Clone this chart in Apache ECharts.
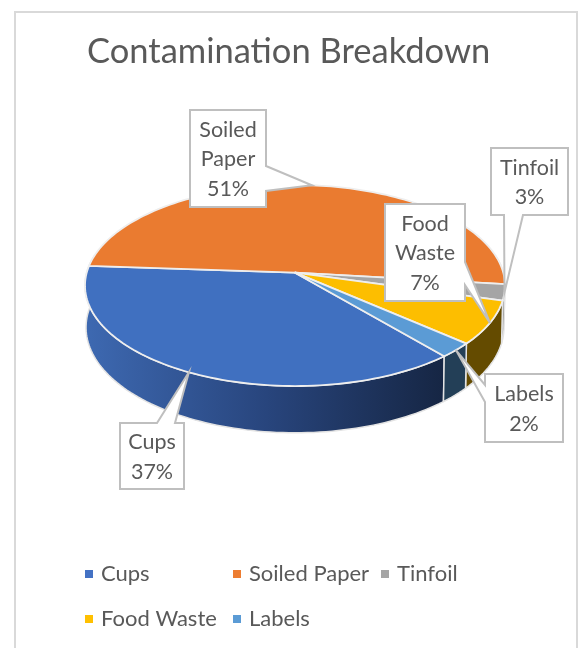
<!DOCTYPE html>
<html>
<head>
<meta charset="utf-8">
<style>
  html, body { margin: 0; padding: 0; background: #fff; }
  #chart { width: 580px; height: 648px; }
</style>
</head>
<body>
<div id="chart"></div>
<script src="https://cdn.jsdelivr.net/npm/echarts@6/dist/echarts.min.js"></script>
<script>
const categories = ["Cups", "Soiled Paper", "Tinfoil", "Food Waste", "Labels"];
const percents = [37.3, 50.7, 2.6, 7, 2.4];

const topColors = ["#4070c0", "#ea7b30", "#a5a5a5", "#fdbe00", "#5b9bd5"];
const legendColors = ["#4472c4", "#ed7d31", "#a5a5a5", "#ffc000", "#5b9bd5"];
const textColor = "#595959";
const fontName = "Lato, 'Open Sans', sans-serif";

// pie geometry, perspective squeeze of a flat disc
const pie = { cx: 295, cy: 272.7, a: 208.3, b: 98.9, k: 0.1274, depth: 41.3, bottomScale: 0.995, startAngle: 139.7 };

// callout boxes, and where on the box the tail starts
const callouts = [
  { x: 120, y: 423, w: 64, h: 66, tail: "top", from: 157, to: 175 },
  { x: 190, y: 110, w: 76, h: 97, tail: "right", from: 166, to: 191 },
  { x: 491, y: 148, w: 77, h: 67, tail: "bottom", from: 504, to: 523 },
  { x: 385, y: 204, w: 80, h: 97, tail: "right", from: 262, to: 285 },
  { x: 485, y: 374, w: 78, h: 68, tail: "left", from: 385, to: 402 },
];

function wallFill(i) {
  const LG = echarts.graphic.LinearGradient;
  if (i === 0) {
    return new LG(90, 0, 443, 0, [
      { offset: 0, color: "#3d68b0" },
      { offset: 0.5, color: "#28457d" },
      { offset: 1, color: "#162644" },
    ], true);
  }
  return ["", "#8a4a1c", "#636363", "#644b00", "#233f57"][i];
}

function project(angle, level) {
  const r = (angle * Math.PI) / 180;
  const u = Math.sin(r);
  const v = -Math.cos(r);
  const w = 1 - pie.k * v;
  if (level === 0) {
    return [pie.cx + (pie.a * u) / w, pie.cy + (pie.b * v) / w];
  }
  return [
    pie.cx + (pie.a * u * pie.bottomScale) / w,
    pie.cy + (pie.b * v * pie.bottomScale) / w + pie.depth / w,
  ];
}

function arc(from, to, level) {
  const pts = [];
  const n = Math.max(2, Math.ceil(Math.abs(to - from) / 1.5));
  for (let i = 0; i <= n; i++) {
    pts.push(project(from + ((to - from) * i) / n, level));
  }
  return pts;
}

function sliceRange(i) {
  const total = percents.reduce((s, p) => s + p, 0);
  let from = pie.startAngle;
  for (let j = 0; j < i; j++) from += (percents[j] / total) * 360;
  return [from, from + (percents[i] / total) * 360];
}

function calloutShape(box, tip) {
  const l = box.x, t = box.y, r = box.x + box.w, b = box.y + box.h;
  if (box.tail === "top") return [[l, t], [box.from, t], tip, [box.to, t], [r, t], [r, b], [l, b]];
  if (box.tail === "right") return [[l, t], [r, t], [r, box.from], tip, [r, box.to], [r, b], [l, b]];
  if (box.tail === "bottom") return [[l, t], [r, t], [r, b], [box.to, b], tip, [box.from, b], [l, b]];
  return [[l, t], [r, t], [r, b], [l, b], [l, box.to], tip, [l, box.from]];
}

function renderSlice(i) {
  return function () {
    const [from, to] = sliceRange(i);
    const children = [];

    // side wall: only the part facing the viewer, angles 80..280 (also +360)
    [[80, 280], [440, 640]].forEach(([lo, hi]) => {
      const a0 = Math.max(from, lo);
      const a1 = Math.min(to, hi);
      if (a1 <= a0) return;
      children.push({
        type: "polygon",
        z2: 2,
        shape: { points: arc(a0, a1, 0).concat(arc(a1, a0, 1)) },
        style: { fill: wallFill(i), stroke: "#e3e3e3", lineWidth: 1.5, lineJoin: "round" },
      });
    });

    // top face
    children.push({
      type: "polygon",
      z2: 4,
      shape: { points: [[pie.cx, pie.cy]].concat(arc(from, to, 0)) },
      style: { fill: topColors[i], stroke: "#eeeeee", lineWidth: 1.8, lineJoin: "round" },
    });

    // callout with its tail on the rim at the slice's middle
    const box = callouts[i];
    children.push({
      type: "polygon",
      z2: 10,
      shape: { points: calloutShape(box, project((from + to) / 2, 0)) },
      style: { fill: "#fff", stroke: "#bfbfbf", lineWidth: 2, lineJoin: "miter" },
    });
    children.push({
      type: "text",
      z2: 11,
      style: {
        x: box.x + box.w / 2,
        y: box.y + box.h / 2 + 1,
        text: categories[i].replace(" ", "\n") + "\n" + Math.round(percents[i]) + "%",
        align: "center",
        verticalAlign: "middle",
        font: "21.5px " + fontName,
        lineHeight: 29.5,
        fill: textColor,
      },
    });
    return { type: "group", children };
  };
}

const legendSpots = [
  { left: 85, top: 563 },
  { left: 233, top: 563 },
  { left: 381, top: 563 },
  { left: 85, top: 608 },
  { left: 233, top: 608 },
];

const chart = echarts.init(document.getElementById("chart"), null, { renderer: "canvas" });
chart.setOption({
  animation: false,
  backgroundColor: "#fff",
  title: {
    text: "Contamination Breakdown",
    left: 87,
    top: 34,
    padding: 0,
    textStyle: { fontFamily: fontName, fontSize: 34.5, fontWeight: "normal", color: textColor },
  },
  legend: categories.map((name, i) => ({
    data: [name],
    left: legendSpots[i].left,
    top: legendSpots[i].top,
    padding: 0,
    icon: "rect",
    itemWidth: 8,
    itemHeight: 8,
    selectedMode: false,
    textStyle: { fontFamily: fontName, fontSize: 22, color: textColor, padding: [0, 0, 0, 3] },
  })),
  graphic: [
    {
      type: "rect",
      silent: true,
      shape: { x: 15, y: 12, width: 562, height: 660 },
      style: { fill: "#fff", stroke: "#d9d9d9", lineWidth: 2 },
      z: -1,
    },
  ],
  series: categories.map((name, i) => ({
    type: "custom",
    name,
    coordinateSystem: "none",
    silent: true,
    itemStyle: { color: legendColors[i] },
    data: [[percents[i]]],
    renderItem: renderSlice(i),
  })),
});
</script>
</body>
</html>
